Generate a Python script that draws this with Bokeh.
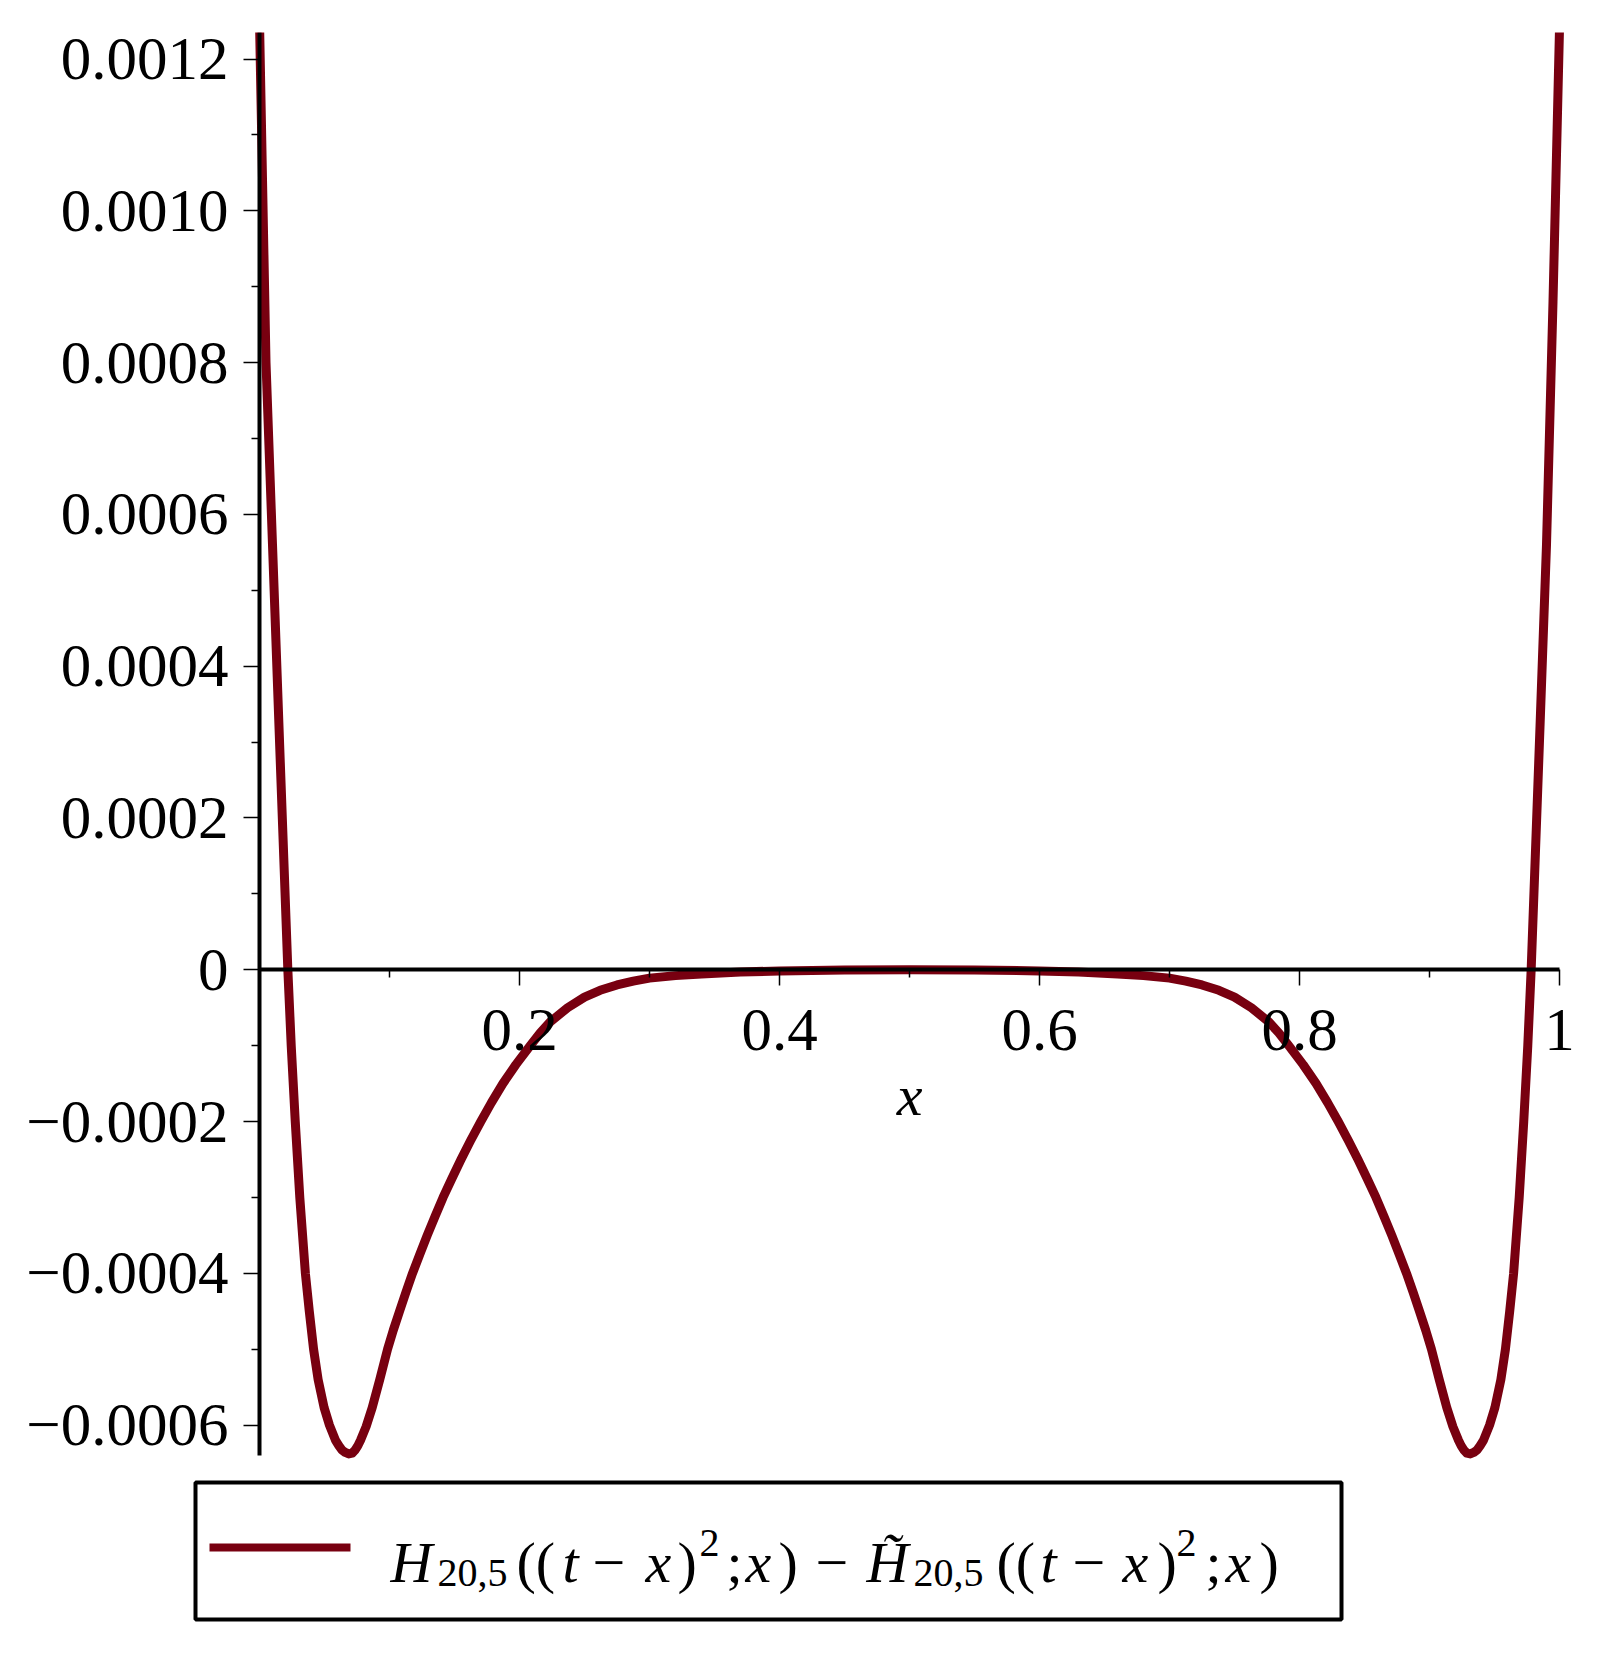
from bokeh.plotting import figure
from bokeh.models import Range1d, FixedTicker, ColumnDataSource
from bokeh.embed import file_html
from bokeh.resources import INLINE
from bokeh.core.properties import value

# ---------------- data ----------------
x_left = [0.0, 0.005, 0.010, 0.015, 0.0218, 0.0244, 0.0275, 0.031, 0.0353, 0.0383,
          0.0416, 0.0451, 0.0497, 0.0538, 0.0585, 0.061, 0.0635, 0.066, 0.0687, 0.0712,
          0.0735, 0.0757, 0.0777, 0.082, 0.0867, 0.0925, 0.0985, 0.1029, 0.1077, 0.1126,
          0.1177, 0.1233, 0.1290, 0.1350, 0.1412, 0.1480, 0.1550, 0.1624, 0.1702, 0.1784,
          0.1872, 0.1972, 0.2082, 0.216, 0.224, 0.237, 0.25, 0.262, 0.275, 0.2875,
          0.30, 0.32, 0.34, 0.37, 0.40, 0.45, 0.50]
y_left = [0.00125, 0.00080, 0.00056, 0.00032, 0.0, -0.0001, -0.0002, -0.0003, -0.0004, -0.00045,
          -0.0005, -0.00054, -0.000577, -0.0006, -0.00062, -0.000627, -0.000633, -0.000636, -0.000638, -0.000637,
          -0.000633, -0.000627, -0.00062, -0.000602, -0.000577, -0.00054, -0.0005, -0.000475, -0.00045, -0.000425,
          -0.0004, -0.000375, -0.00035, -0.000325, -0.0003, -0.000275, -0.00025, -0.000225, -0.0002, -0.000175,
          -0.00015, -0.000125, -0.0001, -0.000083, -0.000068, -0.00005, -0.000036, -0.000027, -0.00002, -0.000015,
          -0.000011, -0.0000077, -0.0000055, -0.000003, -0.0000015, -0.0000003, 0.0]
x_right = [0.55, 0.60, 0.63, 0.66, 0.68, 0.70, 0.7125, 0.725, 0.738, 0.75,
           0.763, 0.776, 0.784, 0.7918, 0.8028, 0.8128, 0.8216, 0.8298, 0.8376, 0.845,
           0.852, 0.8588, 0.865, 0.871, 0.8767, 0.8823, 0.8874, 0.8923, 0.8971, 0.9015,
           0.9075, 0.9133, 0.918, 0.9223, 0.9243, 0.9265, 0.9288, 0.9313, 0.934, 0.9365,
           0.939, 0.9415, 0.9462, 0.9503, 0.9549, 0.9584, 0.9617, 0.9647, 0.969, 0.9725,
           0.9756, 0.9782, 0.985, 0.990, 0.995, 1.0]
y_right = [-0.0000003, -0.0000015, -0.000003, -0.0000055, -0.0000077, -0.000011, -0.000015, -0.00002, -0.000027, -0.000036,
           -0.00005, -0.000068, -0.000083, -0.0001, -0.000125, -0.00015, -0.000175, -0.0002, -0.000225, -0.00025,
           -0.000275, -0.0003, -0.000325, -0.00035, -0.000375, -0.0004, -0.000425, -0.00045, -0.000475, -0.0005,
           -0.00054, -0.000577, -0.000602, -0.00062, -0.000627, -0.000633, -0.000637, -0.000638, -0.000636, -0.000633,
           -0.000627, -0.00062, -0.0006, -0.000577, -0.00054, -0.0005, -0.00045, -0.0004, -0.0003, -0.0002,
           -0.0001, 0.0, 0.00032, 0.00056, 0.00088, 0.00124]

x_major_ticks = [0.2, 0.4, 0.6, 0.8, 1.0]
x_tick_labels = ["0.2", "0.4", "0.6", "0.8", "1"]
x_minor_ticks = [0.1, 0.3, 0.5, 0.7, 0.9]
y_major_ticks = [-0.0006, -0.0004, -0.0002, 0.0, 0.0002, 0.0004, 0.0006, 0.0008, 0.0010, 0.0012]
y_tick_labels = ["\u22120.0006", "\u22120.0004", "\u22120.0002", "0", "0.0002", "0.0004",
                 "0.0006", "0.0008", "0.0010", "0.0012"]
y_minor_ticks = [-0.0005, -0.0003, -0.0001, 0.0001, 0.0003, 0.0005, 0.0007, 0.0009, 0.0011]

x_view = (0.0, 1.0)
y_view = (-0.00064, 0.001235)

CURVE = "#780010"
SERIF = "Liberation Serif"

# ---------------- geometry (page pixels) ----------------
W, H = 1610, 1650          # canvas
FRAME_TOP = 32             # top of the data view
AX_X0, AX_X1 = 259, 1559   # x = 0 and x = 1
AX_YB = 1455               # bottom of the data view

sx = (x_view[1] - x_view[0]) / (AX_X1 - AX_X0)
sy = (y_view[1] - y_view[0]) / (AX_YB - FRAME_TOP)
x_range = Range1d(x_view[0] - AX_X0 * sx, x_view[1] + (W - AX_X1) * sx)
y_range = Range1d(y_view[0] - (H - AX_YB) * sy, y_view[1])

p = figure(width=W, height=H, x_range=x_range, y_range=y_range,
           output_backend="svg", toolbar_location=None,
           min_border_left=0, min_border_right=0, min_border_bottom=0, min_border_top=FRAME_TOP)
p.outline_line_color = None
p.grid.visible = False
p.background_fill_color = "white"

p.line(x_left + x_right, y_left + y_right, line_color=CURVE, line_width=9,
       line_join="round", line_cap="round")

for ax in (p.xaxis[0], p.yaxis[0]):
    ax.fixed_location = 0
    ax.axis_line_width = 4
    ax.axis_line_color = "black"
    ax.major_tick_line_color = "black"
    ax.minor_tick_line_color = "black"
    ax.major_tick_line_width = 1.5
    ax.minor_tick_line_width = 1.5
    ax.major_tick_in = 0
    ax.major_tick_out = 16
    ax.minor_tick_in = 0
    ax.minor_tick_out = 8
    ax.major_label_text_font = SERIF
    ax.major_label_text_font_size = "61px"
    ax.major_label_text_color = "black"

p.xaxis.bounds = x_view
p.xaxis.ticker = FixedTicker(ticks=x_major_ticks, minor_ticks=x_minor_ticks)
p.xaxis.major_label_overrides = dict(zip(x_major_ticks, x_tick_labels))
p.xaxis.major_label_standoff = 24
p.xaxis.axis_label = "x"
p.xaxis.axis_label_text_font = SERIF
p.xaxis.axis_label_text_font_style = "italic"
p.xaxis.axis_label_text_font_size = "58px"
p.xaxis.axis_label_text_color = "black"
p.xaxis.axis_label_standoff = 10

p.yaxis.bounds = y_view
p.yaxis.ticker = FixedTicker(ticks=y_major_ticks, minor_ticks=y_minor_ticks)
p.yaxis.major_label_overrides = dict(zip(y_major_ticks, y_tick_labels))
p.yaxis.major_label_standoff = 15

# ---------------- legend (drawn in page-pixel ranges) ----------------
p.extra_x_ranges = {"px": Range1d(0, W)}
p.extra_y_ranges = {"py": Range1d(H, FRAME_TOP)}
kw = dict(x_range_name="px", y_range_name="py")

box_l, box_r, box_t, box_b = 195, 1341, 1482, 1619
p.quad(left=[box_l], right=[box_r], top=[box_t], bottom=[box_b],
       fill_color=None, line_color="black", line_width=4, **kw)
sw_y = 1547
p.line([box_l + 14, box_l + 155], [sw_y, sw_y], line_color=CURVE, line_width=8, **kw)

base = 1562
ital = ColumnDataSource(dict(
    x=[390, 562, 645, 745, 866, 1040, 1122, 1225],
    y=[base] * 8,
    t=["H", "t", "x", "x", "H\u0303", "t", "x", "x"]))
upr = ColumnDataSource(dict(
    x=[516, 592, 677, 726, 778, 815, 996, 1072, 1157, 1205, 1259],
    y=[base] * 11,
    t=["((", "\u2212", ")", ";", ")", "\u2212", "((", "\u2212", ")", ";", ")"]))
subs = ColumnDataSource(dict(x=[437, 913], y=[base + 10] * 2, t=["20,5", "20,5"]))
sups = ColumnDataSource(dict(x=[699, 1176], y=[base - 20] * 2, t=["2", "2"]))

common = dict(x="x", y="y", text="t", text_font=value(SERIF), text_baseline="alphabetic",
              text_align="left", text_color="black", **kw)
p.text(source=ital, text_font_style="italic", text_font_size="58px", **common)
p.text(source=upr, text_font_size="58px", **common)
p.text(source=subs, text_font_size="40px", **common)
p.text(source=sups, text_font_size="40px", **common)

open("out.html", "w").write(file_html(p, INLINE))
